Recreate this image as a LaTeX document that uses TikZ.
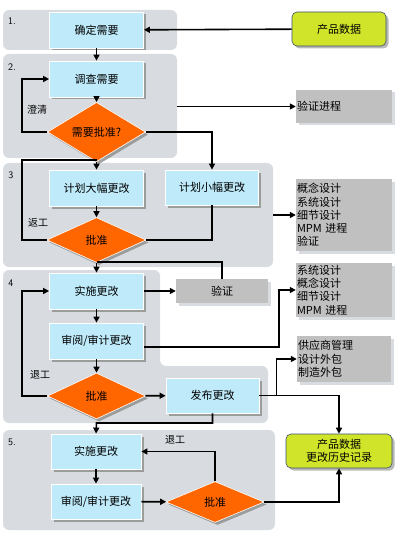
\documentclass[tikz,border=0pt]{standalone}
\usepackage{fontspec}
\setmainfont{Noto Sans CJK SC}
\usetikzlibrary{arrows.meta,shapes.geometric,shadows}

\definecolor{pnlgray}{RGB}{216,220,224}
\definecolor{boxblue}{RGB}{190,234,250}
\definecolor{decorange}{RGB}{255,102,0}
\definecolor{lstgray}{RGB}{192,192,192}
\definecolor{datagreen}{RGB}{208,228,42}
\definecolor{dataedge}{RGB}{60,80,110}

\tikzset{
  pnl/.style={fill=pnlgray,rounded corners=6pt,inner sep=0},
  blk/.style={draw=white,fill=boxblue,line width=0.8pt,minimum width=94pt,minimum height=36pt,inner sep=0,
    drop shadow={shadow xshift=2.5pt,shadow yshift=-2.5pt,fill=black!45,opacity=.8}},
  dec/.style={diamond,draw=white,fill=decorange,line width=0.6pt,minimum width=98pt,minimum height=46pt,inner sep=0,
    drop shadow={shadow xshift=2.5pt,shadow yshift=-2.5pt,fill=black!45,opacity=.8}},
  lst/.style={fill=lstgray,align=left,inner sep=1pt,
    drop shadow={shadow xshift=2.5pt,shadow yshift=-2.5pt,fill=pnlgray,opacity=1}},
  dat/.style={draw=dataedge,fill=datagreen,rounded corners=5pt,line width=0.6pt,align=center,inner sep=0,
    drop shadow={shadow xshift=2.5pt,shadow yshift=-2.5pt,fill=black!35,opacity=.8}},
  lbl/.style={font=\fontsize{10pt}{12pt}\selectfont},
  num/.style={font=\sffamily\fontsize{10pt}{12pt}\selectfont},
  ln/.style={line width=1.6pt,rounded corners=0pt},
  arr/.style={ln,-{Triangle[length=6pt,width=6pt]}}
}

\begin{document}
\begin{tikzpicture}[x=1pt,y=-1pt,font=\fontsize{11pt}{13.3pt}\selectfont]
\useasboundingbox (0,0) rectangle (400,540);
% panels
\node[pnl,minimum width=174pt,minimum height=40pt] (P1) at (90,30) {};
\node[pnl,minimum width=174pt,minimum height=104pt] (P2) at (90,106) {};
\node[pnl,minimum width=270pt,minimum height=104pt] (P3) at (138,215) {};
\fill[pnlgray,rounded corners=6pt] (3,270) -- (160,270) -- (160,366) -- (268,366) -- (268,423) -- (3,423) -- cycle;
\node[pnl,minimum width=272pt,minimum height=100pt] (P5) at (139,480) {};
\node[num] at (12,21) {1.};
\node[num] at (12,67) {2.};
\node[num] at (11,175) {3};
\node[num] at (11,283) {4};
\node[num] at (12,442) {5.};

% boxes
\node[blk] (n1) at (96.5,30) {确定需要};
\node[blk] (n2) at (96.5,79) {调查需要};
\node[dec] (d1) at (96.5,132) {需要批准?};
\node[dat,minimum width=94pt,minimum height=34pt] (pd) at (339,29) {产品数据};
\node[lst,text width=94pt,minimum height=33pt] (v1) at (344,106.5) {验证进程};
\node[blk] (c1) at (96.5,188) {计划大幅更改};
\node[blk,minimum width=93pt,minimum height=35pt] (c2) at (212,187.5) {计划小幅更改};
\node[dec,minimum width=99pt,minimum height=45pt] (d2) at (96.5,240) {批准};
\node[lst,text width=94pt,minimum height=72pt] (l1) at (344,215) {概念设计\\系统设计\\细节设计\\MPM 进程\\验证};
\node[blk] (e1) at (96.5,291) {实施更改};
\node[lst,align=center,text width=90pt,minimum height=24pt] (v2) at (222,291) {验证};
\node[blk] (r1) at (96.5,341) {审阅/审计更改};
\node[lst,text width=94pt,minimum height=54pt] (l2) at (344,290) {系统设计\\概念设计\\细节设计\\MPM 进程};
\node[dec] (d3) at (96.5,396) {批准};
\node[blk,minimum width=93pt,minimum height=35pt] (f1) at (212.5,395.5) {发布更改};
\node[lst,text width=92pt,minimum height=46pt] (l3) at (344,359) {供应商管理\\设计外包\\制造外包};
\node[blk,minimum width=90pt,minimum height=35pt] (e2) at (96,451.5) {实施更改};
\node[blk,minimum width=90pt,minimum height=35pt] (r2) at (96,501.5) {审阅/审计更改};
\node[dec,minimum height=41pt] (d4) at (215,502) {批准};
\node[dat,minimum width=106pt,minimum height=34pt] (hd) at (339,451) {产品数据\\更改历史记录};

% labels
\node[lbl] at (37,110) {澄清};
\node[lbl] at (38,223) {返工};
\node[lbl] at (40,375) {退工};
\node[lbl] at (175,440) {退工};

% connectors
\coordinate (j1) at (96.5,160);
\coordinate (j2) at (96.5,262);
\coordinate (j3) at (96.5,423);
\draw[arr] (pd) -- (n1);
\draw[arr] (n1) -- (n2);
\draw[arr] (n2) -- (d1);
\draw[arr] (d1.west) -- ++(-25,0) |- (n2.west);
\draw[arr] (P2.east |- v1.west) -- (v1.west);
\draw[arr] (d1.east) -| (c2.north);
\draw[arr] (d1.south) -- (c1.north);
\draw[ln] (d2.west) -- ++(-25,0) |- (j1);
\draw[arr] (c1) -- (d2);
\draw[ln] (c2.south) |- (d2.east);
\draw[arr] (d2.south) -- (e1.north);
\draw[ln] (v2.north) |- (j2);
\draw[arr] (P3.east |- l1.west) -- (l1.west);
\draw[arr] (e1) -- (v2);
\draw[arr] (e1) -- (r1);
\draw[arr] ([yshift=-6pt]r1.east) -| ([xshift=-17pt]l2.west) -- (l2.west);
\draw[arr] (r1) -- (d3);
\draw[arr] (d3) -- (f1);
\draw[arr] (d3.west) -- ++(-25,0) |- (e1.west);
\draw[arr] (f1.south) |- (j3) -- (e2.north);
\draw[arr] (f1.east) -| (hd.north);
\draw[arr] ([xshift=17pt]f1.east) |- (l3.west);
\draw[arr] (e2) -- (r2);
\draw[arr] (r2) -- (d4);
\draw[arr] (d4.north) |- (e2.east);
\draw[arr] (d4.east) -| (hd.south);
\end{tikzpicture}
\end{document}
